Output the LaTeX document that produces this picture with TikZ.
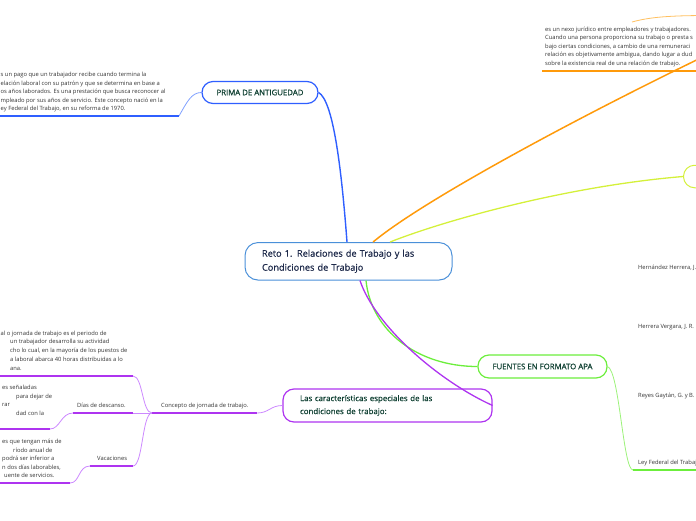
\documentclass[tikz,border=0pt]{standalone}
\usepackage{fontspec}
\setmainfont{Open Sans}
\newfontfamily\semib[FakeBold=0.6]{Open Sans}
\usetikzlibrary{calc}
\definecolor{cblue}{HTML}{2F5FFF}
\definecolor{cbluel}{HTML}{7FA0FF}
\definecolor{croot}{HTML}{4A90D9}
\definecolor{corange}{HTML}{FF9A0A}
\definecolor{corangel}{HTML}{FFC060}
\definecolor{cyel}{HTML}{D4F03A}
\definecolor{cgreen}{HTML}{6CEE3C}
\definecolor{cgreenl}{HTML}{9CF27A}
\definecolor{cpurp}{HTML}{AE34F0}
\definecolor{cpurpl}{HTML}{CC88FF}
\definecolor{ctxt}{HTML}{333333}
\definecolor{cnavy}{HTML}{1E2A4A}
\definecolor{cdgreen}{HTML}{0E3F31}
\tikzset{
  small/.style={font=\fontsize{5.8}{6.5}\selectfont, text=ctxt, inner sep=0pt, anchor=base west},
  topic/.style={draw, rounded corners=11pt, line width=1.2pt, fill=white,
    font=\semib\fontsize{7.8}{9}\selectfont, text=cdgreen, inner sep=0pt},
  mainline/.style={line width=1.4pt},
  subline/.style={line width=0.8pt},
  uline/.style={line width=1.6pt},
}
\begin{document}
\begin{tikzpicture}[x=1pt,y=-1pt]
\useasboundingbox (0,0) rectangle (696,520);
\clip (0,0) rectangle (696,520);

% ---------- nodes ----------
\node[draw=croot, line width=1pt, fill=white, rounded corners=13pt,
      minimum width=207pt, minimum height=37.5pt, inner xsep=17pt, inner ysep=0pt,
      text width=173pt, align=left, text=cnavy,
      font=\semib\fontsize{9.2}{14}\selectfont] (root) at (348.5,261.3)
  {Reto 1. Relaciones de Trabajo y las\\Condiciones de Trabajo};

\node[topic, draw=cblue, minimum width=116pt, minimum height=22pt] (prima) at (260,92.5) {PRIMA DE ANTIGUEDAD};
\node[topic, draw=cgreen, minimum width=129pt, minimum height=23pt] (fuentes) at (542.5,366.5) {FUENTES EN FORMATO APA};
\node[topic, draw=cpurp, fill=none, minimum width=209pt, minimum height=33pt,
      inner xsep=17pt, text width=175pt, align=left,
      font=\semib\fontsize{7.9}{13}\selectfont] (carac) at (387.5,405.5)
  {Las características especiales de las\\condiciones de trabajo:};
\node[draw=cyel, line width=1pt, fill=white, rounded corners=11pt, minimum width=80pt,
      minimum height=22.5pt, anchor=west, inner sep=0pt] (ynode) at (683,176.5) {};

% ---------- coordinates ----------
\coordinate (oend) at (760,30);
\coordinate (pu) at (179,116);
\coordinate (pl) at (-5,116);
\coordinate (ou1) at (542,71);
\coordinate (ou2) at (710,71);
\coordinate (ot1) at (632,22);
\coordinate (ot2) at (710,15.5);
\coordinate (leyj) at (633,470);
\coordinate (leyr) at (710,470);
\coordinate (cj) at (152,413);
\coordinate (cu) at (257,413);
\coordinate (ju) at (133,376);
\coordinate (jl) at (-5,376);
\coordinate (du) at (133,413);
\coordinate (dl) at (73,413);
\coordinate (dc) at (50,429);
\coordinate (dcl) at (-5,429);
\coordinate (vu) at (133,466);
\coordinate (vl) at (90,466);
\coordinate (vc) at (70,483);
\coordinate (vcl) at (-5,483);

% ---------- connectors from root ----------
\draw[cblue, mainline] ($(root.north)+(-1.5,0)$) .. controls +(-6,-80) and +(14,8) .. (prima.east);
\draw[corange, line width=1.5pt] ($(root.north)+(24.5,0)$) .. controls +(60,-50) and +(-120,55) .. (oend);
\draw[cyel, line width=1.3pt] ($(root.north)+(41.5,0)$) .. controls +(50,-20) and +(-120,10) .. (ynode.west);
\draw[cgreen, line width=1.3pt] ($(root.south)+(17.5,0)$) .. controls +(5,50) and +(-60,0) .. (fuentes.west);
\draw[cpurp, line width=1.3pt] ($(root.south)+(11.5,0)$) .. controls +(15,45) and +(-55,-25) .. (carac.east);

% ---------- blue branch ----------
\draw[cbluel, subline] (prima.west) .. controls +(-10,0) and +(8,-14) .. (pu);
\draw[cblue, uline] (pu) -- (pl);
\node[small] (pr1) at (0.5,76.8) {s un pago que un trabajador recibe cuando termina la};
\node[small] (pr2) at (0.5,85.3) {elación laboral con su patrón y que se determina en base a};
\node[small] (pr3) at (0.5,93.8) {os años laborados. Es una prestación que busca reconocer al};
\node[small] (pr4) at (0.5,102.3) {mpleado por sus años de servicio. Este concepto nació en la};
\node[small] (pr5) at (0.5,110.8) {ey Federal del Trabajo, en su reforma de 1970.};

% ---------- orange branch ----------
\draw[corange, uline] (ou1) -- (ou2);
\draw[corangel, subline] (ot1) .. controls +(18,-5) and +(-40,0) .. (ot2);
\node[small] (or1) at (545,31.3) {es un nexo jurídico entre empleadores y trabajadores.};
\node[small] (or2) at (545,39.8) {Cuando una persona proporciona su trabajo o presta s};
\node[small] (or3) at (545,48.3) {bajo ciertas condiciones, a cambio de una remuneraci};
\node[small] (or4) at (545,56.8) {relación es objetivamente ambigua, dando lugar a dud};
\node[small] (or5) at (545,65.3) {sobre la existencia real de una relación de trabajo.};

% ---------- green branch ----------
\draw[cgreenl, subline] (fuentes.east) .. controls +(12,5) and +(-10,0) .. (leyj);
\draw[cgreen, uline] (leyj) -- (leyr);
\node[small] (r1) at (638,269.8) {Hernández Herrera, J.};
\node[small] (r2) at (638,328) {Herrera Vergara, J. R.};
\node[small] (r3) at (638,397) {Reyes Gaytán, G. y B.};
\node[small] (r4) at (638,464) {Ley Federal del Trabajo};

% ---------- purple branch ----------
\draw[cpurpl, subline] (carac.west) .. controls +(-12,0) and +(12,0) .. (cu);
\draw[cpurp, uline] (cj) -- (cu);
\draw[cpurpl, subline] (cj) .. controls +(-10,0) and +(10,0) .. (ju);
\draw[cpurpl, subline] (cj) -- (du);
\draw[cpurpl, subline] (cj) .. controls +(-10,0) and +(10,0) .. (vu);
\draw[cpurp, uline] (ju) -- (jl);
\draw[cpurp, uline] (du) -- (dl);
\draw[cpurp, uline] (vu) -- (vl);
\draw[cpurpl, subline] (dl) .. controls +(-12,0) and +(10,0) .. (dc);
\draw[cpurp, uline] (dc) -- (dcl);
\draw[cpurpl, subline] (vl) .. controls +(-12,0) and +(10,0) .. (vc);
\draw[cpurp, uline] (vc) -- (vcl);

\node[small] (conc) at (161,407) {Concepto de jornada de trabajo.};
\node[small] (dias) at (77,407) {Días de descanso.};
\node[small] (vac) at (97,460) {Vacaciones};

\node[small] (j1) at (0.5,335) {al o jornada de trabajo es el periodo de};
\node[small] (j2) at (10,343.8) {un trabajador desarrolla su actividad};
\node[small] (j3) at (10,352.6) {cho lo cual, en la mayoría de los puestos de};
\node[small] (j4) at (10,361.4) {a laboral abarca 40 horas distribuidas a lo};
\node[small] (j5) at (10,370.2) {ana.};

\node[small] (d1) at (2,389.8) {es señaladas};
\node[small] (d2) at (16,398.3) {para dejar de};
\node[small] (d3) at (2,406.8) {rar};
\node[small] (d4) at (16,415.3) {dad con la};

\node[small] (v1) at (2,443.8) {es que tengan más de};
\node[small] (v2) at (13,452.3) {ríodo anual de};
\node[small] (v3) at (2,460.8) {podrá ser inferior a};
\node[small] (v4) at (2,469.3) {n dos días laborables,};
\node[small] (v5) at (4,477.8) {uente de servicios.};
\end{tikzpicture}
\end{document}
